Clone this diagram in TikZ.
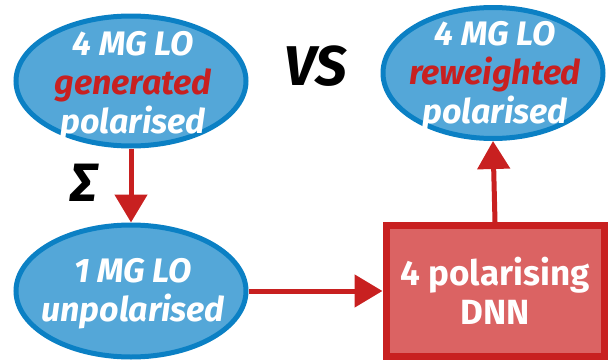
\documentclass[tikz,border=0pt]{standalone}
\usepackage{fontspec}
\setmainfont{Fira Sans}
\usetikzlibrary{shapes.geometric,arrows.meta}
\definecolor{ellfill}{HTML}{54A7D8}
\definecolor{elldraw}{HTML}{0B80C4}
\definecolor{redline}{HTML}{C82020}
\definecolor{boxfill}{HTML}{DB6363}
\tikzset{
  ell/.style={ellipse, fill=ellfill, draw=elldraw, line width=5pt, inner sep=0pt},
  elltext/.style={text=white, align=center, inner sep=0pt,
    font=\fontsize{34}{39}\selectfont\bfseries\itshape},
  dnnbox/.style={rectangle, fill=boxfill, draw=redline, line width=7pt, inner sep=0pt,
    text=white, align=center, font=\fontsize{35}{39}\selectfont\bfseries},
  flow/.style={draw=redline, line width=5pt, -{Triangle[length=28pt,width=32pt]}},
  bigitalic/.style={font=\fontsize{56}{60}\selectfont\bfseries\itshape}
}
\begin{document}
\begin{tikzpicture}[x=1pt,y=-1pt]
\useasboundingbox (0,0) rectangle (611,362);
\node[ell, minimum width=230pt, minimum height=130pt] (gen) at (131,81) {};
\node[elltext] (gentext) at (133,86)
  {4 MG LO\\\textcolor{redline}{generated}\\polarised};
\node[ell, minimum width=230pt, minimum height=132pt] (unpol) at (131,291) {};
\node[elltext] (unpoltext) at (133,294)
  {1 MG LO\\unpolarised};
\node[ell, minimum width=220pt, minimum height=131pt] (rew) at (493,73) {};
\node[elltext] (rewtext) at (495,76)
  {4 MG LO\\\textcolor{redline}{reweighted}\\polarised};
\node[dnnbox, minimum width=218pt, minimum height=131pt] (dnn) at (495,291)
  {4 polarising\\DNN};
\node[bigitalic] (vs) at (316,66) {VS};
\node[font=\fontsize{54}{58}\selectfont\bfseries\itshape] (sigma) at (84,183) {Σ};
\draw[flow] (gen.south) -- (unpol.north);
\draw[flow] (unpol.east) -- (dnn.west);
\draw[flow] (dnn.north) -- (rew.south);
\end{tikzpicture}
\end{document}
